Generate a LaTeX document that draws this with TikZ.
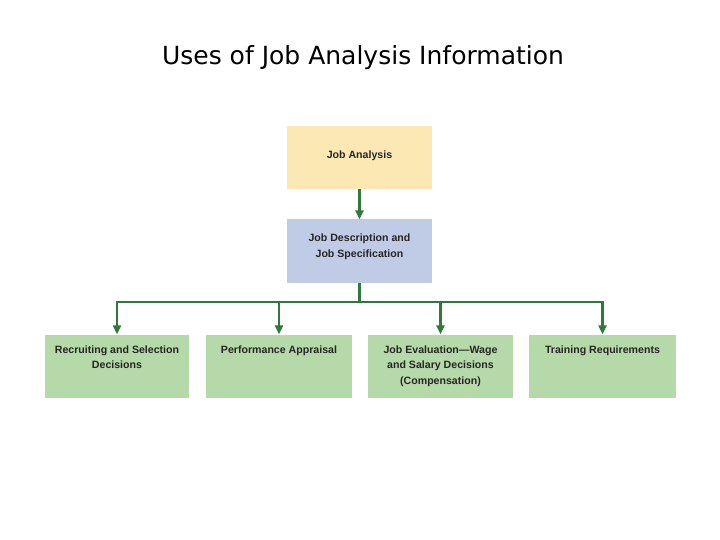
\documentclass[tikz,border=0pt]{standalone}
\usepackage{fontspec}
\setmainfont{Liberation Sans}
\newfontfamily\titlefont{DejaVu Sans}
\usetikzlibrary{arrows.meta}
\definecolor{ylw}{HTML}{FCE8B2}
\definecolor{blu}{HTML}{C0CCE6}
\definecolor{grn}{HTML}{B6D9A9}
\definecolor{ln}{HTML}{2E7A3C}
\begin{document}
\begin{tikzpicture}[x=1pt,y=-1pt,
  box/.style={draw=none,minimum width=145pt,minimum height=63pt,inner sep=0pt},
  lbl/.style={font=\fontsize{10.6}{15.5}\selectfont\bfseries,text=black!85,align=center},
  arr/.style={draw=ln,line width=2.2pt,-{Triangle[length=9pt,width=8pt]}},
  lin/.style={draw=ln,line width=2.2pt}]
\useasboundingbox (0,0) rectangle (720,540);
\node[font=\titlefont\fontsize{25}{30}\selectfont] (title) at (363,58) {Uses of Job Analysis Information};
\node[box,fill=ylw] (ja) at (359.5,157.5) {};
\node[lbl] at (359.5,156) {Job Analysis};
\node[box,fill=blu] (jd) at (359.5,251) {};
\node[lbl] at (359.5,247) {Job Description and\\Job Specification};
\node[box,fill=grn,minimum width=144pt] (b1) at (117,366) {};
\node[box,fill=grn,minimum width=146pt] (b2) at (279,366) {};
\node[box,fill=grn,minimum width=145pt] (b3) at (440.5,366) {};
\node[box,fill=grn,minimum width=147pt] (b4) at (602.5,366) {};
\node[lbl,anchor=north] (t1) at (117,342) {Recruiting and Selection\\Decisions};
\node[lbl,anchor=north] (t2) at (279,342) {Performance Appraisal};
\node[lbl,anchor=north] (t3) at (440.5,342) {Job Evaluation---Wage\\and Salary Decisions\\(Compensation)};
\node[lbl,anchor=north] (t4) at (602.5,342) {Training Requirements};
\draw[arr] (ja.south) -- (jd.north);
\coordinate (hub) at (359.5,302);
\coordinate (l) at (117,302);
\coordinate (r) at (602.5,302);
\draw[lin] (jd.south) -- (hub);
\draw[lin] ([xshift=-1.1pt]l) -- ([xshift=1.1pt]r);
\draw[arr] (l) -- (b1.north);
\draw[arr] (279,302) -- (b2.north);
\draw[arr] (440.5,302) -- (b3.north);
\draw[arr] (r) -- (b4.north);
\end{tikzpicture}
\end{document}
